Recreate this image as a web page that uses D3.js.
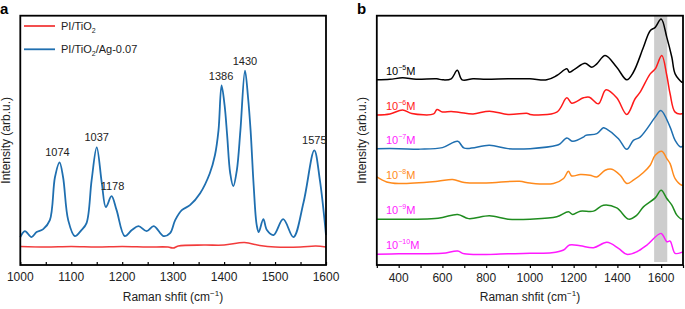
<!DOCTYPE html>
<html>
<head>
<meta charset="utf-8">
<script src="https://cdn.jsdelivr.net/npm/d3@7"></script>
<style>
  body { margin: 0; background: #fff; }
  svg { font-family: "Liberation Sans", Arial, sans-serif; }
</style>
</head>
<body>
<svg id="chart" width="685" height="309"></svg>
<script>
// ---------------- panel a data ----------------
const aShiftBlue = [1000,1009,1022,1032,1045,1058,1068,1077,1084,1094,1107,1120,1130,1140,1150,1160,1168,1179,1189,1205,1219,1232,1248,1262,1281,1294,1304,1317,1333,1353,1372,1382,1389,1395,1401,1406,1412,1418,1425,1432,1441,1447,1452,1458,1464,1468,1477,1484,1497,1516,1536,1556,1577,1588,1600];
const aBlue      = [28,34,28,33,36,45,88,103,88,45,29,35,42,85,118,82,58,69,55,29,35,39,34,39,29,32,45,55,60,72,92,110,135,180,160,130,92,79,95,135,195,168,135,80,40,33,46,35,30,46,28,63,115,85,30];
const aShiftRed  = [1000,1050,1100,1150,1200,1250,1290,1300,1310,1360,1400,1440,1470,1500,1550,1580,1600];
const aRed       = [18.5,18,18.5,18,18.5,18,18,17,19,20,20,22.5,19.5,18,18,19,18];
const aPeakLabels = ["1074","1037","1178","1386","1430","1575"];
const aPeakShift  = [1073,1150,1181,1394,1441,1577];
const aPeakValue  = [103,118,69,180,195,115];
const aTicks = [1000,1100,1200,1300,1400,1500,1600];

// ---------------- panel b data ----------------
const bLabels = ["5","6","7","8","9","10"];
const bOffsets = [185.7,150.5,116.7,81.7,46,10.7];
const bColors = ["#000000","#ff1a1a","#1f6fb0","#ff8a1c","#1f8c1f","#ff1aff"];
const bLabelColors = ["#000000","#ff1a1a","#ff1aff","#ff8a1c","#ff1aff","#ff1aff"];
const bShift = [
  [300,360,418,480,574,600,640,668,690,740,800,900,1000,1077,1123,1169,1181,1207,1252,1283,1306,1344,1397,1443,1473,1519,1550,1573,1600,1626,1649,1664,1695,1700],
  [300,360,418,460,560,575,600,640,680,740,815,900,990,1001,1123,1169,1191,1245,1272,1313,1348,1397,1443,1481,1504,1550,1573,1603,1626,1641,1664,1695,1700],
  [300,400,500,600,670,700,815,900,1001,1123,1139,1169,1196,1245,1255,1306,1336,1348,1405,1443,1473,1504,1573,1599,1641,1664,1690,1700],
  [300,345,400,578,647,700,800,952,1000,1108,1154,1176,1191,1230,1275,1306,1344,1375,1413,1443,1473,1519,1550,1573,1603,1626,1641,1664,1695,1700],
  [300,580,670,720,815,900,1001,1123,1176,1196,1230,1291,1336,1397,1451,1489,1519,1573,1600,1626,1649,1672,1695,1700],
  [300,400,600,670,700,900,1001,1100,1154,1181,1230,1291,1352,1405,1443,1489,1535,1600,1626,1641,1664,1695,1700]
];
const bValues = [
  [0,0.5,2,0.5,1,0,1,9.5,0,1,0.5,1,1,0,4.3,11,7.6,11,16.6,12.6,16,24.3,12.6,0,7.6,32.6,49.3,52.6,61,42.6,22.6,6,-2.4,-2.4],
  [0,1,5,1.5,1,5.5,3,3.5,2.5,1,3.8,0.5,1.5,0.5,2.8,17.2,11.8,17.2,17.8,11.2,25.2,17.2,0.5,16.2,22.8,41.2,46.2,59.5,39.5,21.2,2.8,1.2,2],
  [0,0,-0.5,1,7.3,0.5,3.3,0,0,3.3,5,10.6,7.3,11.6,13.3,15,21,20,10,-0.7,8.3,11.6,31.6,38.3,21.6,8.3,1.6,3],
  [6.6,1.6,0,2.3,4,1,0.5,2.3,0.5,0,5,12.3,7.6,9,8.3,6.6,13.3,14.3,8.3,0,3.3,11,18.3,28.3,32.3,25,20,5,-1.7,-1.7],
  [0,1,4.7,0.5,3.3,0,0,2.3,7.3,4.7,8,8,14,11.3,0,4,12.3,21.3,29,20.7,14,4,0,0.5],
  [0,0.5,1,3.3,0.5,0.5,1,1.5,4.3,9.3,8.6,6.6,12,6,0,2.6,9.3,21,12.6,13.3,1,2,2.5]
];
const bBand = [1568,1628];
const bTicks = [300,400,500,600,700,800,900,1000,1100,1200,1300,1400,1500,1600,1700];
const bTickLabels = [400,600,800,1000,1200,1400,1600];

const svg = d3.select("#chart");
const plotTop = 15.7, plotBottom = 265;

// helper: x axis title with superscript
function xTitle(g, cx) {
  const t = g.append("text")
    .attr("x", cx).attr("y", 301)
    .attr("text-anchor", "middle")
    .attr("font-size", 12)
    .attr("fill", "#222");
  t.append("tspan").text("Raman shfit (cm");
  t.append("tspan").attr("dy", -5).attr("font-size", 8).text("\u22121");
  t.append("tspan").attr("dy", 5).text(")");
}

function yTitle(g, cx) {
  g.append("text")
    .attr("transform", `translate(${cx},${(plotTop + plotBottom) / 2}) rotate(-90)`)
    .attr("text-anchor", "middle")
    .attr("font-size", 12)
    .attr("fill", "#222")
    .text("Intensity (arb.u.)");
}

//------------------ PANEL A ------------------
const ga = svg.append("g");
const xa = d3.scaleLinear().domain([1000, 1600]).range([20.3, 326]);
const ya = d3.scaleLinear().domain([0, 250]).range([plotBottom, plotTop]);

const lineA = d3.line().curve(d3.curveCatmullRom.alpha(0.5));

ga.append("path")
  .attr("d", lineA(aShiftRed.map((s, i) => [xa(s), ya(aRed[i])])))
  .attr("fill", "none").attr("stroke", "#f23b3b").attr("stroke-width", 1.6);

ga.append("path")
  .attr("d", lineA(aShiftBlue.map((s, i) => [xa(s), ya(aBlue[i])])))
  .attr("fill", "none").attr("stroke", "#1f6fb0").attr("stroke-width", 1.8);

// bottom axis, ticks inward
ga.append("g")
  .attr("transform", `translate(0,${plotBottom})`)
  .call(d3.axisBottom(xa).tickValues(d3.range(1000, 1601, 50)).tickSize(-3).tickSizeOuter(0).tickFormat(""))
  .call(g => g.select(".domain").remove())
  .selectAll("line").attr("stroke", "#000").attr("stroke-width", 1.2);

ga.selectAll(".atick")
  .data(aTicks)
  .join("text")
  .attr("x", d => xa(d))
  .attr("y", 281)
  .attr("text-anchor", "middle")
  .attr("font-size", 12)
  .attr("fill", "#222")
  .text(d => d);

ga.append("rect")
  .attr("x", xa(1000)).attr("y", plotTop)
  .attr("width", xa(1600) - xa(1000)).attr("height", plotBottom - plotTop)
  .attr("fill", "none").attr("stroke", "#000").attr("stroke-width", 1.8);

ga.selectAll(".peak")
  .data(aPeakLabels)
  .join("text")
  .attr("x", (d, i) => xa(aPeakShift[i]))
  .attr("y", (d, i) => ya(aPeakValue[i]) - 6)
  .attr("text-anchor", "middle")
  .attr("font-size", 11)
  .attr("fill", "#222")
  .text(d => d);

// legend
const legA = [["#f23b3b", "PI/TiO", ""], ["#1f6fb0", "PI/TiO", "/Ag-0.07"]];
legA.forEach((l, i) => {
  const yy = 26 + i * 23.3;
  ga.append("line")
    .attr("x1", 24).attr("x2", 55).attr("y1", yy).attr("y2", yy)
    .attr("stroke", l[0]).attr("stroke-width", 1.8);
  const t = ga.append("text").attr("x", 61).attr("y", yy + 4).attr("font-size", 11).attr("fill", "#222");
  t.append("tspan").text(l[1]);
  t.append("tspan").attr("dy", 3).attr("font-size", 7).text("2");
  t.append("tspan").attr("dy", -3).text(l[2]);
});

xTitle(ga, 173);
yTitle(ga, 10);
ga.append("text").attr("x", 0).attr("y", 14).attr("font-size", 15).attr("font-weight", "bold").text("a");

//------------------ PANEL B ------------------
const gb = svg.append("g");
const xb = d3.scaleLinear().domain([300, 1700]).range([376.8, 683]);
const yb = d3.scaleLinear().domain([0, 250]).range([plotBottom, plotTop]);

gb.append("rect")
  .attr("x", xb(bBand[0])).attr("y", plotTop)
  .attr("width", xb(bBand[1]) - xb(bBand[0])).attr("height", plotBottom - plotTop - 3)
  .attr("fill", "#cdcdcd");

const lineB = d3.line().curve(d3.curveCatmullRom.alpha(0.5));
bShift.forEach((xs, k) => {
  gb.append("path")
    .attr("d", lineB(xs.map((s, i) => [xb(s), yb(bOffsets[k] + bValues[k][i])])))
    .attr("fill", "none").attr("stroke", bColors[k]).attr("stroke-width", 1.5);

  const t = gb.append("text")
    .attr("x", 386).attr("y", yb(bOffsets[k]) - 5)
    .attr("font-size", 11).attr("fill", bLabelColors[k]);
  t.append("tspan").text("10");
  t.append("tspan").attr("dy", -5).attr("font-size", 7).text("\u2212" + bLabels[k]);
  t.append("tspan").attr("dy", 5).text("M");
});

gb.append("g")
  .attr("transform", `translate(0,${plotBottom})`)
  .call(d3.axisBottom(xb).tickValues(bTicks).tickSize(3).tickSizeOuter(0).tickFormat(""))
  .call(g => g.select(".domain").remove())
  .selectAll("line").attr("stroke", "#000").attr("stroke-width", 1.2);

gb.selectAll(".btick")
  .data(bTickLabels)
  .join("text")
  .attr("x", d => xb(d))
  .attr("y", 282)
  .attr("text-anchor", "middle")
  .attr("font-size", 12)
  .attr("fill", "#222")
  .text(d => d);

gb.append("rect")
  .attr("x", xb(300)).attr("y", plotTop)
  .attr("width", xb(1700) - xb(300)).attr("height", plotBottom - plotTop)
  .attr("fill", "none").attr("stroke", "#000").attr("stroke-width", 1.8);

xTitle(gb, 530);
yTitle(gb, 366);
gb.append("text").attr("x", 357).attr("y", 14).attr("font-size", 15).attr("font-weight", "bold").text("b");
</script>
</body>
</html>
